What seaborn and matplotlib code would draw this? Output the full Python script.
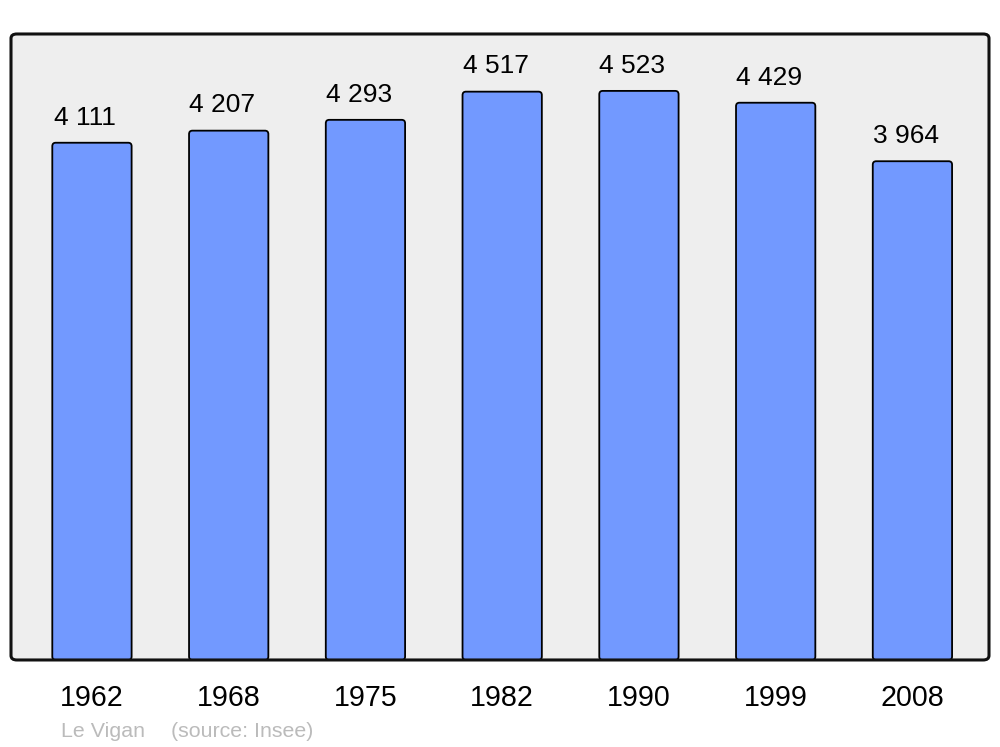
import pandas as pd
import matplotlib
matplotlib.use("Agg")
import matplotlib.pyplot as plt
import seaborn as sns
from matplotlib.patches import FancyBboxPatch

# population data (Insee)
years = ["1962", "1968", "1975", "1982", "1990", "1999", "2008"]
population = [4111, 4207, 4293, 4517, 4523, 4429, 3964]
value_labels = ["4 111", "4 207", "4 293", "4 517", "4 523", "4 429", "3 964"]
town = "Le Vigan"
source = "(source: Insee)"

df = pd.DataFrame({"year": years, "pop": population})

sns.set_style("white")
plt.rcParams["font.family"] = ["Liberation Sans", "DejaVu Sans"]
plt.rcParams["text.color"] = "black"
plt.rcParams["xtick.color"] = "black"

fig = plt.figure(figsize=(10, 7.47), dpi=100)
ax = fig.add_axes([0.011, 0.1165, 0.978, 0.838])
ax.set_facecolor("none")

sns.barplot(data=df, x="year", y="pop", order=years, color="#7299FF",
            width=0.58, saturation=1, edgecolor="black", linewidth=1.3, ax=ax)

ax.set_xlim(-0.592, 6.56)
ax.set_ylim(0, max(population) * 1.1)

# swap bars for slightly rounded ones
for p in list(ax.patches):
    x, y, w, h = p.get_x(), p.get_y(), p.get_width(), p.get_height()
    p.remove()
    ax.add_patch(FancyBboxPatch((x, y), w, h,
                                boxstyle="round,pad=0,rounding_size=0.025",
                                mutation_aspect=1100, facecolor="#7299FF",
                                edgecolor="black", linewidth=1.3, zorder=2))

# labels sit a little left of the bar centres, like the original
for i, lab in enumerate(value_labels):
    ax.annotate(lab, (i, population[i]), xytext=(-4.7, 9.5), textcoords="offset points",
                ha="center", va="bottom", fontsize=19, color="black")

# rounded background and frame
ax.add_patch(FancyBboxPatch((0, 0), 1, 1, boxstyle="round,pad=0,rounding_size=0.006",
                            mutation_aspect=1.17, transform=ax.transAxes,
                            facecolor="#EEEEEE", edgecolor="none", zorder=0, clip_on=False))
ax.add_patch(FancyBboxPatch((0, 0), 1, 1, boxstyle="round,pad=0,rounding_size=0.006",
                            mutation_aspect=1.17, transform=ax.transAxes,
                            facecolor="none", edgecolor="#111111", linewidth=2.2,
                            zorder=5, clip_on=False))

for s in ax.spines.values():
    s.set_visible(False)
ax.set_xlabel("")
ax.set_ylabel("")
ax.set_yticks([])
ax.tick_params(axis="x", length=0, pad=17, labelsize=20.6, labelcolor="black")

fig.text(0.061, 0.013, town, fontsize=15.4, color="#BBBBBB")
fig.text(0.171, 0.013, source, fontsize=15.4, color="#BBBBBB")

fig.savefig("out.png", dpi=100)
